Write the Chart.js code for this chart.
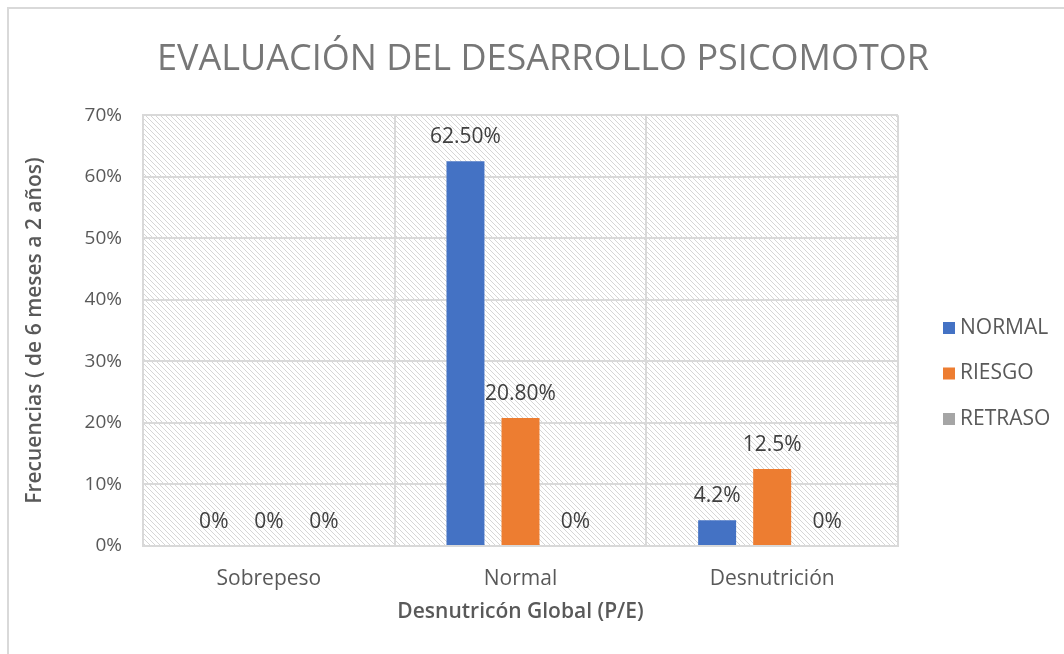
<!DOCTYPE html>
<html>
<head>
<meta charset="utf-8">
<script src="https://cdn.jsdelivr.net/npm/chart.js@4"></script>
<style>
  html, body { margin: 0; padding: 0; background: #fff; }
  #frame {
    position: absolute; left: 7px; top: 7px; width: 1057px; height: 647px;
    border-left: 2px solid #d9d9d9; border-top: 2px solid #d9d9d9;
  }
  #wrap { position: absolute; left: 0; top: 0; width: 1064px; height: 654px; }
</style>
</head>
<body>
<div id="frame"></div>
<div id="wrap"><canvas id="chart"></canvas></div>
<script>
// Data
const categories = ["Sobrepeso", "Normal", "Desnutrición"];
const seriesNames = ["NORMAL", "RIESGO", "RETRASO"];
const normalValues = [0, 62.5, 4.2];
const riesgoValues = [0, 20.8, 12.5];
const retrasoValues = [0, 0, 0];
const normalLabels = ["0%", "62.50%", "4.2%"];
const riesgoLabels = ["0%", "20.80%", "12.5%"];
const retrasoLabels = ["0%", "0%", "0%"];
const yTicks = [0, 10, 20, 30, 40, 50, 60, 70];

const FONT = "'Open Sans', 'Noto Sans', sans-serif";
const TEXT = "#595959";

// hatch pattern for plot background
function makeHatch() {
  const c = document.createElement("canvas");
  c.width = 5; c.height = 5;
  const g = c.getContext("2d");
  g.fillStyle = "#fff";
  g.fillRect(0, 0, 5, 5);
  g.fillStyle = "#d6d6d6";
  for (let i = 0; i < 5; i++) g.fillRect(i, i, 1, 1);
  return g.createPattern(c, "repeat");
}

const hatchPlugin = {
  id: "hatch",
  beforeDraw(chart) {
    const { ctx, chartArea: a } = chart;
    ctx.save();
    ctx.fillStyle = makeHatch();
    ctx.fillRect(a.left, a.top, a.right - a.left, a.bottom - a.top);
    ctx.restore();
  }
};

const valueLabels = [normalLabels, riesgoLabels, retrasoLabels];
const labelPlugin = {
  id: "valueLabels",
  afterDatasetsDraw(chart) {
    const ctx = chart.ctx;
    ctx.save();
    ctx.font = "21px " + FONT;
    ctx.fillStyle = "#404040";
    ctx.textAlign = "center";
    ctx.textBaseline = "middle";
    chart.data.datasets.forEach((ds, i) => {
      chart.getDatasetMeta(i).data.forEach((bar, j) => {
        ctx.fillText(valueLabels[i][j], bar.x, bar.y - 24);
      });
    });
    ctx.restore();
  }
};

// legend on the right, drawn by hand
const legendPlugin = {
  id: "sideLegend",
  afterDraw(chart) {
    const ctx = chart.ctx;
    ctx.save();
    ctx.font = "21px " + FONT;
    ctx.textBaseline = "middle";
    ctx.textAlign = "left";
    chart.data.datasets.forEach((ds, i) => {
      const y = 328 + i * 45.5;
      ctx.fillStyle = ds.backgroundColor;
      ctx.fillRect(943, y - 6, 12, 12);
      ctx.fillStyle = TEXT;
      ctx.fillText(ds.label, 960, y);
    });
    ctx.restore();
  }
};

new Chart(document.getElementById("chart"), {
  type: "bar",
  data: {
    labels: categories,
    datasets: [
      { label: seriesNames[0], data: normalValues, backgroundColor: "#4472C4" },
      { label: seriesNames[1], data: riesgoValues, backgroundColor: "#ED7D31" },
      { label: seriesNames[2], data: retrasoValues, backgroundColor: "#A5A5A5" }
    ]
  },
  options: {
    responsive: true,
    maintainAspectRatio: false,
    animation: false,
    categoryPercentage: 0.656,
    barPercentage: 0.69,
    layout: { padding: { left: 22, right: 0, bottom: 29, top: 0 } },
    plugins: {
      title: {
        display: true,
        text: "EVALUACIÓN DEL DESARROLLO PSICOMOTOR",
        color: "#777777",
        font: { family: FONT, size: 36, weight: "normal" },
        padding: { top: 38, bottom: 34 }
      },
      legend: { display: false },
      tooltip: { enabled: false }
    },
    scales: {
      x: {
        afterFit(scale) { scale.height = 79; },
        grid: { color: "#d9d9d9", lineWidth: 2, drawTicks: false },
        border: { color: "#d9d9d9", width: 2 },
        ticks: { color: TEXT, font: { family: FONT, size: 21 }, padding: 20 },
        title: {
          display: true,
          text: "Desnutricón Global (P/E)",
          color: TEXT,
          font: { family: FONT, size: 21, weight: "600" },
          padding: 0
        }
      },
      y: {
        min: 0,
        max: 70,
        afterBuildTicks(axis) { axis.ticks = yTicks.map(v => ({ value: v })); },
        afterFit(scale) { scale.width = 121; },
        grid: { color: "#d9d9d9", lineWidth: 2, drawTicks: false },
        border: { color: "#d9d9d9", width: 2 },
        ticks: {
          color: TEXT,
          font: { family: FONT, size: 19 },
          padding: 21,
          callback: v => v + "%"
        },
        title: {
          display: true,
          text: "Frecuencias ( de 6 meses a 2 años)",
          color: TEXT,
          font: { family: FONT, size: 21, weight: "600" },
          padding: 0
        }
      },
      // empty right-hand axis that only reserves room for the legend
      legendSpace: {
        type: "linear",
        position: "right",
        afterFit(scale) { scale.width = 166; },
        grid: { display: false },
        border: { display: false },
        ticks: { display: false }
      }
    }
  },
  plugins: [hatchPlugin, labelPlugin, legendPlugin]
});
</script>
</body>
</html>
